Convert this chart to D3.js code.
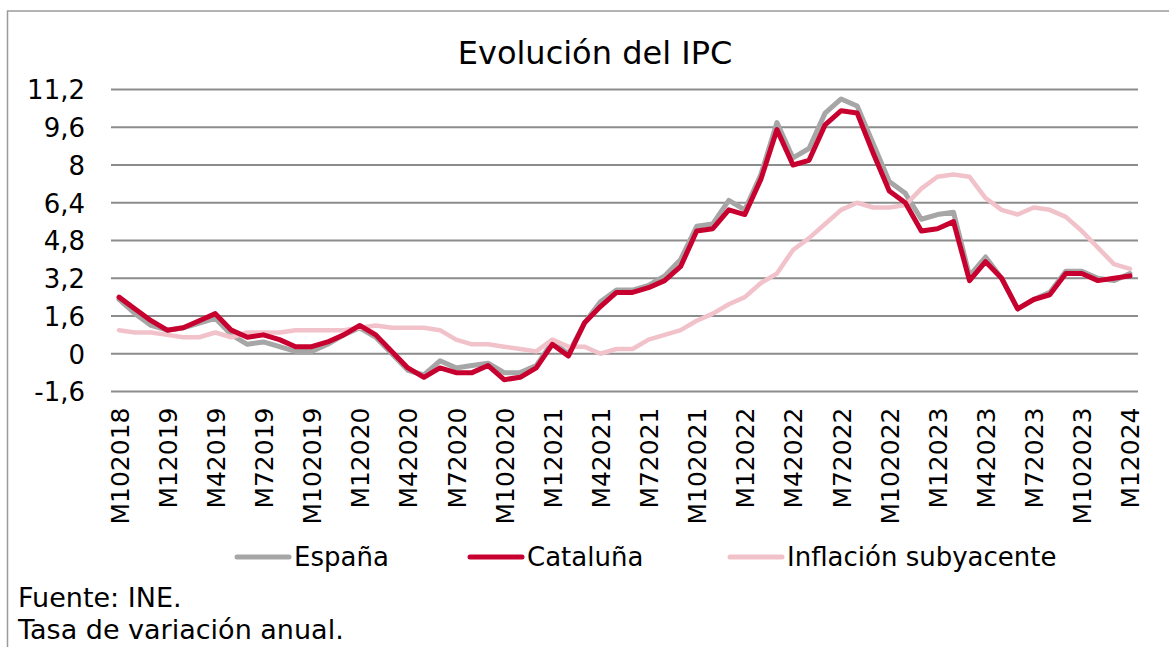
<!DOCTYPE html>
<html>
<head>
<meta charset="utf-8">
<script src="https://cdn.jsdelivr.net/npm/d3@7"></script>
<style>
  body { margin: 0; background: #fff; }
  svg { display: block; font-family: Verdana, "DejaVu Sans", sans-serif; }
</style>
</head>
<body>
<svg id="svg" width="1169" height="647"></svg>
<script>
// months M102018 ... M12024
const categories = [
  'M102018','M112018','M122018',
  'M12019','M22019','M32019','M42019','M52019','M62019','M72019','M82019','M92019','M102019','M112019','M122019',
  'M12020','M22020','M32020','M42020','M52020','M62020','M72020','M82020','M92020','M102020','M112020','M122020',
  'M12021','M22021','M32021','M42021','M52021','M62021','M72021','M82021','M92021','M102021','M112021','M122021',
  'M12022','M22022','M32022','M42022','M52022','M62022','M72022','M82022','M92022','M102022','M112022','M122022',
  'M12023','M22023','M32023','M42023','M52023','M62023','M72023','M82023','M92023','M102023','M112023','M122023',
  'M12024'
];

const espana = [
  2.3, 1.7, 1.2,
  1.0, 1.1, 1.3, 1.5, 0.8, 0.4, 0.5, 0.3, 0.1, 0.1, 0.4, 0.8,
  1.1, 0.7, 0.0, -0.7, -0.9, -0.3, -0.6, -0.5, -0.4, -0.8, -0.8, -0.5,
  0.5, 0.0, 1.3, 2.2, 2.7, 2.7, 2.9, 3.3, 4.0, 5.4, 5.5, 6.5,
  6.1, 7.6, 9.8, 8.3, 8.7, 10.2, 10.8, 10.5, 8.9, 7.3, 6.8, 5.7,
  5.9, 6.0, 3.3, 4.1, 3.2, 1.9, 2.3, 2.6, 3.5, 3.5, 3.2, 3.1,
  3.4
];

const cataluna = [
  2.4, 1.9, 1.4,
  1.0, 1.1, 1.4, 1.7, 1.0, 0.7, 0.8, 0.6, 0.3, 0.3, 0.5, 0.8,
  1.2, 0.8, 0.1, -0.6, -1.0, -0.6, -0.8, -0.8, -0.5, -1.1, -1.0, -0.6,
  0.4, -0.1, 1.3, 2.0, 2.6, 2.6, 2.8, 3.1, 3.7, 5.2, 5.3, 6.1,
  5.9, 7.4, 9.5, 8.0, 8.2, 9.7, 10.3, 10.2, 8.5, 6.9, 6.4, 5.2,
  5.3, 5.6, 3.1, 3.9, 3.2, 1.9, 2.3, 2.5, 3.4, 3.4, 3.1, 3.2,
  3.3
];

const subyacente = [
  1.0, 0.9, 0.9,
  0.8, 0.7, 0.7, 0.9, 0.7, 0.9, 0.9, 0.9, 1.0, 1.0, 1.0, 1.0,
  1.1, 1.2, 1.1, 1.1, 1.1, 1.0, 0.6, 0.4, 0.4, 0.3, 0.2, 0.1,
  0.6, 0.3, 0.3, 0.0, 0.2, 0.2, 0.6, 0.8, 1.0, 1.4, 1.7, 2.1,
  2.4, 3.0, 3.4, 4.4, 4.9, 5.5, 6.1, 6.4, 6.2, 6.2, 6.3, 7.0,
  7.5, 7.6, 7.5, 6.6, 6.1, 5.9, 6.2, 6.1, 5.8, 5.2, 4.5, 3.8,
  3.6
];

const xTickLabels = ['M102018','M12019','M42019','M72019','M102019','M12020','M42020','M72020',
  'M102020','M12021','M42021','M72021','M102021','M12022','M42022','M72022','M102022',
  'M12023','M42023','M72023','M102023','M12024'];
const yTicks = [-1.6, 0, 1.6, 3.2, 4.8, 6.4, 8, 9.6, 11.2];

const seriesNames = ['España', 'Cataluña', 'Inflación subyacente'];
const colors = ['#a6a6a6', '#c8002f', '#f2c2cb'];

const svg = d3.select('#svg');
const plot = {left: 111, right: 1138, top: 89.5, bottom: 391.5};

// frame
svg.append('path')
    .attr('d', 'M7.5,648 V11 H1170')
    .attr('fill', 'none')
    .attr('stroke', '#9a9a9a')
    .attr('stroke-width', 1.5);

svg.append('text')
    .attr('x', 595)
    .attr('y', 64)
    .attr('text-anchor', 'middle')
    .attr('font-size', 32)
    .attr('fill', '#000')
    .text('Evolución del IPC');

const xScale = d3.scalePoint()
    .domain(categories)
    .range([plot.left, plot.right])
    .padding(0.5);

const yScale = d3.scaleLinear()
    .domain([-1.6, 11.2])
    .range([plot.bottom, plot.top]);

// gridlines
svg.append('g')
    .selectAll('line')
    .data(yTicks)
    .enter()
    .append('line')
    .attr('x1', plot.left)
    .attr('x2', plot.right)
    .attr('y1', d => yScale(d))
    .attr('y2', d => yScale(d))
    .attr('stroke', '#8c8c8c')
    .attr('stroke-width', 2);

// y axis
const yAxis = svg.append('g')
    .attr('transform', 'translate(' + (plot.left - 26) + ',0)')
    .call(d3.axisLeft(yScale)
        .tickValues(yTicks)
        .tickSize(0)
        .tickPadding(0)
        .tickFormat(d => String(d).replace('.', ',')));
yAxis.select('.domain').remove();
yAxis.selectAll('text')
    .attr('font-size', 26)
    .attr('font-family', 'Verdana, "DejaVu Sans", sans-serif')
    .attr('fill', '#000')
    .attr('dy', '0.36em');

// x axis
const xAxis = svg.append('g')
    .attr('transform', 'translate(0,' + (plot.bottom + 16) + ')')
    .call(d3.axisBottom(xScale)
        .tickValues(xTickLabels)
        .tickSize(0)
        .tickPadding(0));
xAxis.select('.domain').remove();
xAxis.selectAll('text')
    .attr('font-size', 25)
    .attr('font-family', 'Verdana, "DejaVu Sans", sans-serif')
    .attr('fill', '#000')
    .attr('text-anchor', 'end')
    .attr('transform', 'rotate(-90)')
    .attr('x', 0)
    .attr('y', 0)
    .attr('dy', '0.36em');

// lines
const allSeries = [espana, subyacente, cataluna];
const allColors = [colors[0], colors[2], colors[1]];
const widths = [5, 4.5, 5];
const line = d3.line()
    .x((d, i) => xScale(categories[i]))
    .y(d => yScale(d));

svg.append('g')
    .selectAll('path')
    .data(allSeries)
    .enter()
    .append('path')
    .attr('d', d => line(d))
    .attr('fill', 'none')
    .attr('stroke', (d, i) => allColors[i])
    .attr('stroke-width', (d, i) => widths[i])
    .attr('stroke-linejoin', 'round')
    .attr('stroke-linecap', 'round');

// legend
const legendX = [237, 470, 730];
const legendY = 557;
const legend = svg.append('g')
    .selectAll('g')
    .data(seriesNames)
    .enter()
    .append('g')
    .attr('transform', (d, i) => 'translate(' + legendX[i] + ',' + legendY + ')');
legend.append('line')
    .attr('x1', 0)
    .attr('x2', 52)
    .attr('stroke', (d, i) => colors[i])
    .attr('stroke-width', 5)
    .attr('stroke-linecap', 'round');
legend.append('text')
    .attr('x', 57)
    .attr('dy', '0.36em')
    .attr('font-size', 26)
    .attr('fill', '#000')
    .text(d => d);

// notes
svg.append('text')
    .attr('x', 18)
    .attr('y', 607)
    .attr('font-size', 27)
    .text('Fuente: INE.');
svg.append('text')
    .attr('x', 18)
    .attr('y', 639)
    .attr('font-size', 27)
    .text('Tasa de variación anual.');
</script>
</body>
</html>
